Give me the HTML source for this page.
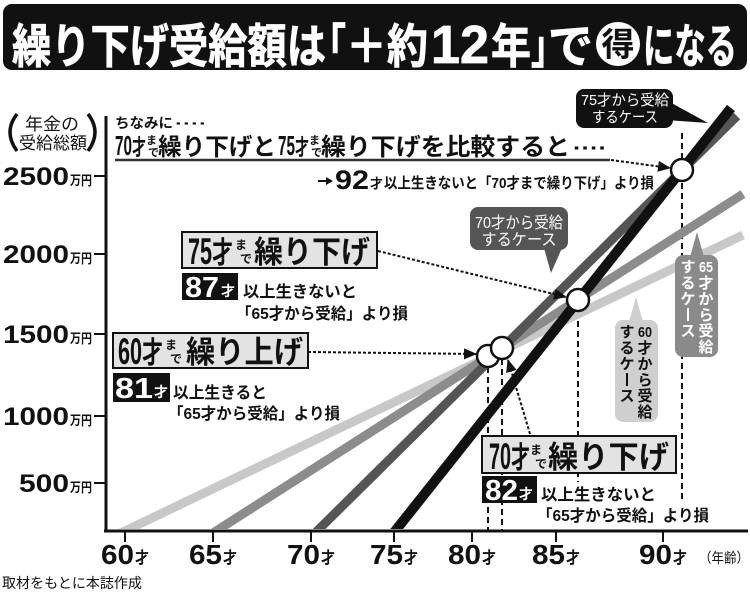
<!DOCTYPE html>
<html><head><meta charset="utf-8">
<style>
html,body{margin:0;padding:0;background:#fff;}
svg{display:block;}
text{font-family:"Liberation Sans","Noto Sans CJK JP",sans-serif;}
</style></head><body>
<svg width="750" height="593" viewBox="0 0 750 593" xmlns="http://www.w3.org/2000/svg">
<defs>
<clipPath id="plot"><rect x="107" y="0" width="643" height="529"/></clipPath>
<marker id="ah" markerWidth="13" markerHeight="11" refX="12" refY="5.5" orient="auto" markerUnits="userSpaceOnUse"><path d="M0,0 L13,5.5 L0,11 z" fill="#111"/></marker>
</defs>
<rect width="750" height="593" fill="#fff"/>

<!-- Title bar -->
<rect x="3" y="4" width="744" height="66" rx="9" fill="#111"/>
<g fill="#fff" stroke="#fff" stroke-width="0.8" font-weight="bold" font-size="47">
<text x="12" y="63" textLength="314" lengthAdjust="spacingAndGlyphs">繰り下げ受給額は</text>
<text x="328" y="63" textLength="18" lengthAdjust="spacingAndGlyphs">｢</text>
<text x="346" y="63" textLength="82" lengthAdjust="spacingAndGlyphs">＋約</text>
<text x="431" y="63" font-size="54" textLength="58" lengthAdjust="spacingAndGlyphs">12</text>
<text x="491" y="63" textLength="40" lengthAdjust="spacingAndGlyphs">年</text>
<text x="531" y="63" textLength="17" lengthAdjust="spacingAndGlyphs">｣</text>
<text x="548" y="63" textLength="45" lengthAdjust="spacingAndGlyphs">で</text>
<text x="643" y="63" textLength="94" lengthAdjust="spacingAndGlyphs">になる</text>
</g>
<circle cx="618" cy="44" r="22" fill="#fff"/>
<text x="618" y="56" font-size="33" font-weight="bold" fill="#111" text-anchor="middle">得</text>

<!-- Y axis label -->
<path d="M17,114 Q3,132 17,151" stroke="#111" stroke-width="3.5" fill="none"/>
<path d="M88,114 Q102,132 88,151" stroke="#111" stroke-width="3.5" fill="none"/>
<text x="25" y="130" font-size="17" textLength="54" lengthAdjust="spacingAndGlyphs" fill="#111">年金の</text>
<text x="19" y="149" font-size="17" textLength="68" lengthAdjust="spacingAndGlyphs" fill="#111">受給総額</text>

<!-- Axes -->
<line x1="106" y1="116" x2="106" y2="532" stroke="#111" stroke-width="3"/>
<line x1="104" y1="531" x2="748" y2="531" stroke="#111" stroke-width="3"/>

<!-- Y ticks & labels -->
<g stroke="#111" stroke-width="2">
<line x1="94" y1="176" x2="106" y2="176"/>
<line x1="94" y1="254" x2="106" y2="254"/>
<line x1="94" y1="334" x2="106" y2="334"/>
<line x1="94" y1="416" x2="106" y2="416"/>
<line x1="94" y1="483" x2="106" y2="483"/>
</g>
<g fill="#111" font-weight="bold">
<text x="3" y="185" font-size="25" textLength="66" lengthAdjust="spacingAndGlyphs">2500</text>
<text x="70" y="185" font-size="13" textLength="22" lengthAdjust="spacingAndGlyphs">万円</text>
<text x="3" y="263" font-size="25" textLength="66" lengthAdjust="spacingAndGlyphs">2000</text>
<text x="70" y="263" font-size="13" textLength="22" lengthAdjust="spacingAndGlyphs">万円</text>
<text x="3" y="343" font-size="25" textLength="66" lengthAdjust="spacingAndGlyphs">1500</text>
<text x="70" y="343" font-size="13" textLength="22" lengthAdjust="spacingAndGlyphs">万円</text>
<text x="3" y="425" font-size="25" textLength="66" lengthAdjust="spacingAndGlyphs">1000</text>
<text x="70" y="425" font-size="13" textLength="22" lengthAdjust="spacingAndGlyphs">万円</text>
<text x="19" y="492" font-size="25" textLength="50" lengthAdjust="spacingAndGlyphs">500</text>
<text x="70" y="492" font-size="13" textLength="22" lengthAdjust="spacingAndGlyphs">万円</text>
</g>

<!-- X ticks & labels -->
<g stroke="#111" stroke-width="2">
<line x1="125" y1="531" x2="125" y2="542"/>
<line x1="213" y1="531" x2="213" y2="542"/>
<line x1="311" y1="531" x2="311" y2="542"/>
<line x1="394" y1="531" x2="394" y2="542"/>
<line x1="472" y1="531" x2="472" y2="542"/>
<line x1="556" y1="531" x2="556" y2="542"/>
<line x1="663" y1="531" x2="663" y2="542"/>
</g>
<g fill="#111" font-weight="bold">
<text x="101" y="564" font-size="28" textLength="33" lengthAdjust="spacingAndGlyphs">60</text><text x="135" y="563" font-size="16" textLength="14" lengthAdjust="spacingAndGlyphs">才</text>
<text x="189" y="564" font-size="28" textLength="33" lengthAdjust="spacingAndGlyphs">65</text><text x="223" y="563" font-size="16" textLength="14" lengthAdjust="spacingAndGlyphs">才</text>
<text x="287" y="564" font-size="28" textLength="33" lengthAdjust="spacingAndGlyphs">70</text><text x="321" y="563" font-size="16" textLength="14" lengthAdjust="spacingAndGlyphs">才</text>
<text x="370" y="564" font-size="28" textLength="33" lengthAdjust="spacingAndGlyphs">75</text><text x="404" y="563" font-size="16" textLength="14" lengthAdjust="spacingAndGlyphs">才</text>
<text x="448" y="564" font-size="28" textLength="33" lengthAdjust="spacingAndGlyphs">80</text><text x="482" y="563" font-size="16" textLength="14" lengthAdjust="spacingAndGlyphs">才</text>
<text x="532" y="564" font-size="28" textLength="33" lengthAdjust="spacingAndGlyphs">85</text><text x="566" y="563" font-size="16" textLength="14" lengthAdjust="spacingAndGlyphs">才</text>
<text x="639" y="564" font-size="28" textLength="33" lengthAdjust="spacingAndGlyphs">90</text><text x="673" y="563" font-size="16" textLength="14" lengthAdjust="spacingAndGlyphs">才</text>
</g>
<text x="699" y="563" font-size="14" fill="#111" textLength="50" lengthAdjust="spacingAndGlyphs">（年齢）</text>
<text x="2" y="588" font-size="14" fill="#111" textLength="140" lengthAdjust="spacingAndGlyphs">取材をもとに本誌作成</text>

<!-- Dashed verticals -->
<g stroke="#111" stroke-width="2" stroke-dasharray="6,4">
<line x1="488" y1="367" x2="488" y2="530"/>
<line x1="502" y1="359" x2="502" y2="530"/>
<line x1="578" y1="311" x2="578" y2="482"/>
<line x1="682" y1="133" x2="682" y2="500"/>
</g>

<!-- Series lines -->
<g clip-path="url(#plot)" fill="none">
<line x1="106" y1="540" x2="743" y2="235" stroke="#c8c8c8" stroke-width="9"/>
<line x1="202" y1="540" x2="743" y2="194" stroke="#8c8c8c" stroke-width="9"/>
<line x1="308" y1="540" x2="737" y2="116" stroke="#555" stroke-width="9"/>
<line x1="388" y1="540" x2="731" y2="108" stroke="#111" stroke-width="10"/>
</g>

<!-- Circles -->
<g fill="#fff" stroke="#111" stroke-width="2.5">
<circle cx="488" cy="356" r="11"/>
<circle cx="502" cy="348" r="11"/>
<circle cx="578" cy="300" r="11"/>
<circle cx="682" cy="170" r="11"/>
</g>

<!-- Dotted arrows -->
<g stroke="#111" stroke-width="2" stroke-dasharray="3,2" fill="none">
<line x1="611" y1="160" x2="670" y2="168" marker-end="url(#ah)"/>
<line x1="378" y1="251" x2="566" y2="297" marker-end="url(#ah)"/>
<line x1="308" y1="352" x2="476" y2="354" marker-end="url(#ah)"/>
<line x1="530" y1="434" x2="508" y2="360" marker-end="url(#ah)"/>
</g>

<!-- Annotation top -->
<text x="115" y="128" font-size="14" font-weight="bold" fill="#111" textLength="58" lengthAdjust="spacingAndGlyphs">ちなみに</text>
<text x="175" y="128" font-size="14" font-weight="bold" fill="#111" textLength="32" lengthAdjust="spacingAndGlyphs">····</text>
<g fill="#111" font-weight="bold">
<text x="115" y="155" font-size="28" textLength="17" lengthAdjust="spacingAndGlyphs">70</text>
<text x="132" y="155" font-size="22" textLength="14" lengthAdjust="spacingAndGlyphs">才</text>
<text x="146" y="144" font-size="11">ま</text>
<text x="148" y="156" font-size="11">で</text>
<text x="158" y="155" font-size="24" textLength="118" lengthAdjust="spacingAndGlyphs">繰り下げと</text>
<text x="278" y="155" font-size="28" textLength="17" lengthAdjust="spacingAndGlyphs">75</text>
<text x="295" y="155" font-size="22" textLength="14" lengthAdjust="spacingAndGlyphs">才</text>
<text x="309" y="144" font-size="11">ま</text>
<text x="311" y="156" font-size="11">で</text>
<text x="321" y="155" font-size="24" textLength="249" lengthAdjust="spacingAndGlyphs">繰り下げを比較すると</text>
<text x="573" y="155" font-size="20" textLength="34" lengthAdjust="spacingAndGlyphs">····</text>
</g>
<line x1="115" y1="160" x2="610" y2="160" stroke="#333" stroke-width="2.5"/>
<line x1="318" y1="181" x2="328" y2="181" stroke="#111" stroke-width="2"/>
<polygon points="326,177 333,181 326,185" fill="#111"/>
<g fill="#111" font-weight="bold">
<text x="335" y="189" font-size="27" textLength="34" lengthAdjust="spacingAndGlyphs">92</text>
<text x="370" y="188" font-size="13">才</text>
<text x="384" y="188" font-size="15" textLength="270" lengthAdjust="spacingAndGlyphs">以上生きないと「70才まで繰り下げ」より損</text>
</g>

<!-- 75 bubble -->
<rect x="576" y="89" width="97" height="39" rx="8" fill="#111"/>
<polygon points="666,100 708,123 666,120" fill="#111"/>
<text x="625" y="105" font-size="15" fill="#fff" text-anchor="middle" textLength="88" lengthAdjust="spacingAndGlyphs">75才から受給</text>
<text x="625" y="122" font-size="15" fill="#fff" text-anchor="middle" textLength="66" lengthAdjust="spacingAndGlyphs">するケース</text>

<!-- 70 bubble -->
<rect x="470" y="207" width="98" height="43" rx="8" fill="#555"/>
<polygon points="544,248 562,248 551,273" fill="#555"/>
<text x="519" y="228" font-size="16" fill="#fff" text-anchor="middle" textLength="88" lengthAdjust="spacingAndGlyphs">70才から受給</text>
<text x="519" y="245" font-size="16" fill="#fff" text-anchor="middle" textLength="75" lengthAdjust="spacingAndGlyphs">するケース</text>

<!-- 65 bubble (vertical) -->
<rect x="675" y="255" width="43" height="102" rx="8" fill="#8a8a8a"/>
<polygon points="690,257 704,257 697,232" fill="#8a8a8a"/>
<g fill="#fff" font-size="15" font-weight="bold" text-anchor="middle">
<text x="706" y="272" textLength="14" lengthAdjust="spacingAndGlyphs">65</text>
<text x="706" y="288">才</text>
<text x="706" y="304">か</text>
<text x="706" y="320">ら</text>
<text x="706" y="336">受</text>
<text x="706" y="352">給</text>
<text x="688" y="272">す</text>
<text x="688" y="288">る</text>
<text x="688" y="304">ケ</text>
<text x="688" y="336">ス</text>
</g>
<rect x="687" y="308" width="2" height="13" fill="#fff"/>

<!-- 60 bubble (vertical) -->
<rect x="615" y="320" width="43" height="102" rx="8" fill="#cfcfcf"/>
<polygon points="629,322 643,322 636,297" fill="#cfcfcf"/>
<g fill="#111" font-size="15" font-weight="bold" text-anchor="middle">
<text x="645" y="337" textLength="14" lengthAdjust="spacingAndGlyphs">60</text>
<text x="645" y="353">才</text>
<text x="645" y="369">か</text>
<text x="645" y="385">ら</text>
<text x="645" y="401">受</text>
<text x="645" y="417">給</text>
<text x="627" y="337">す</text>
<text x="627" y="353">る</text>
<text x="627" y="369">ケ</text>
<text x="627" y="401">ス</text>
</g>
<rect x="626" y="373" width="2" height="13" fill="#111"/>

<!-- Box A: 75才まで繰り下げ -->
<rect x="182" y="232" width="195" height="36" fill="#e3e3e3" stroke="#111" stroke-width="2"/>
<g fill="#111" font-weight="bold">
<text x="188" y="264" font-size="37" textLength="24" lengthAdjust="spacingAndGlyphs">75</text>
<text x="212" y="263" font-size="30" textLength="21" lengthAdjust="spacingAndGlyphs">才</text>
<text x="235" y="249" font-size="12">ま</text>
<text x="240" y="263" font-size="12">で</text>
<text x="254" y="263" font-size="31" textLength="116" lengthAdjust="spacingAndGlyphs">繰り下げ</text>
</g>
<rect x="182" y="273" width="56" height="27" fill="#111"/>
<text x="185" y="297" font-size="29" font-weight="bold" fill="#fff" textLength="34" lengthAdjust="spacingAndGlyphs">87</text>
<text x="221" y="296" font-size="14" font-weight="bold" fill="#fff">才</text>
<g fill="#111" font-weight="bold" font-size="16">
<text x="243" y="297" textLength="114" lengthAdjust="spacingAndGlyphs">以上生きないと</text>
<text x="236" y="319" textLength="172" lengthAdjust="spacingAndGlyphs">「65才から受給」より損</text>
</g>

<!-- Box C: 60才まで繰り上げ -->
<rect x="113" y="333" width="195" height="35" fill="#e3e3e3" stroke="#111" stroke-width="2"/>
<g fill="#111" font-weight="bold">
<text x="118" y="364" font-size="37" textLength="24" lengthAdjust="spacingAndGlyphs">60</text>
<text x="142" y="363" font-size="30" textLength="21" lengthAdjust="spacingAndGlyphs">才</text>
<text x="165" y="349" font-size="12">ま</text>
<text x="170" y="363" font-size="12">で</text>
<text x="186" y="363" font-size="31" textLength="117" lengthAdjust="spacingAndGlyphs">繰り上げ</text>
</g>
<rect x="113" y="373" width="57" height="29" fill="#111"/>
<text x="115" y="398" font-size="29" font-weight="bold" fill="#fff" textLength="38" lengthAdjust="spacingAndGlyphs">81</text>
<text x="154" y="397" font-size="14" font-weight="bold" fill="#fff">才</text>
<g fill="#111" font-weight="bold" font-size="16">
<text x="173" y="398" textLength="94" lengthAdjust="spacingAndGlyphs">以上生きると</text>
<text x="168" y="419" textLength="172" lengthAdjust="spacingAndGlyphs">「65才から受給」より損</text>
</g>

<!-- Box E: 70才まで繰り下げ -->
<rect x="482" y="436" width="194" height="37" fill="#e3e3e3" stroke="#111" stroke-width="2"/>
<g fill="#111" font-weight="bold">
<text x="489" y="469" font-size="37" textLength="22" lengthAdjust="spacingAndGlyphs">70</text>
<text x="511" y="468" font-size="30" textLength="19" lengthAdjust="spacingAndGlyphs">才</text>
<text x="530" y="454" font-size="12">ま</text>
<text x="535" y="468" font-size="12">で</text>
<text x="548" y="468" font-size="31" textLength="121" lengthAdjust="spacingAndGlyphs">繰り下げ</text>
</g>
<rect x="482" y="476" width="55" height="27" fill="#111"/>
<text x="485" y="500" font-size="29" font-weight="bold" fill="#fff" textLength="33" lengthAdjust="spacingAndGlyphs">82</text>
<text x="519" y="499" font-size="14" font-weight="bold" fill="#fff">才</text>
<g fill="#111" font-weight="bold" font-size="16">
<text x="541" y="500" textLength="115" lengthAdjust="spacingAndGlyphs">以上生きないと</text>
<text x="537" y="521" textLength="172" lengthAdjust="spacingAndGlyphs">「65才から受給」より損</text>
</g>
</svg>
</body></html>
